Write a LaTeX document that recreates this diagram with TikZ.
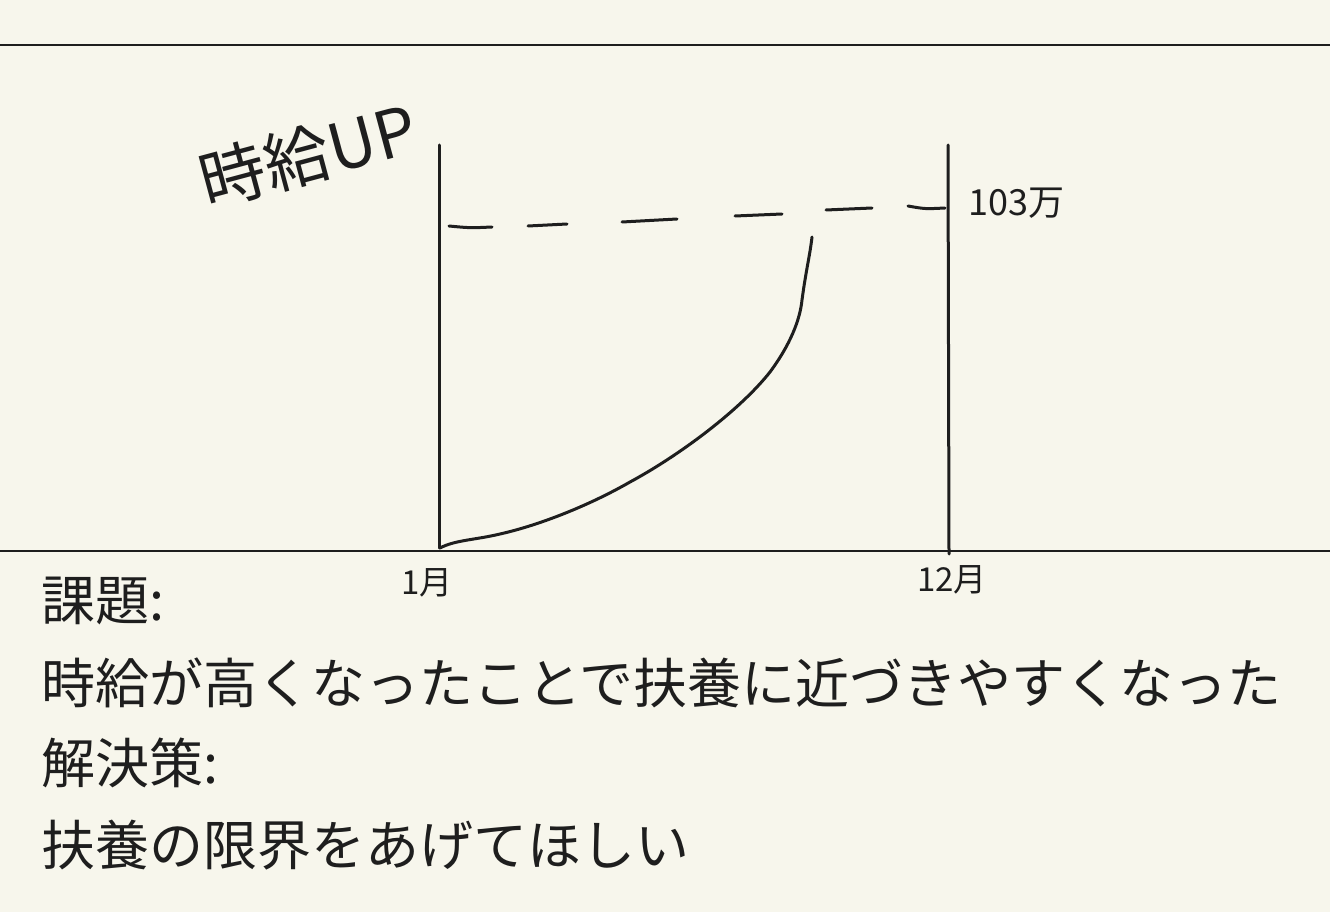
\documentclass[tikz,border=0pt]{standalone}
\usepackage{fontspec}
\newfontfamily\cjk{Noto Sans CJK JP}
\definecolor{paper}{HTML}{F7F6EC}
\definecolor{ink}{HTML}{1E1E1E}
\begin{document}
\begin{tikzpicture}[x=1pt,y=-1pt,
  pen/.style={draw=ink,line width=3pt,line cap=round,line join=round},
  rule/.style={draw=ink,line width=2.6pt},
  hand/.style={text=ink,font=\cjk\fontsize{36}{36}\selectfont,inner sep=0pt},
  body/.style={text=ink,font=\cjk\fontsize{54}{54}\selectfont,inner sep=0pt,anchor=west}]
\fill[paper] (0,0) rectangle (1330,912);
\useasboundingbox (0,0) rectangle (1330,912);
% ruled lines
\draw[rule] (0,45) -- (1330,45);
\draw[rule] (0,551) -- (1330,551);
% axes
\coordinate (l0) at (439,145); \coordinate (l1) at (439,548);
\coordinate (r0) at (948,145); \coordinate (r1) at (949,554);
\draw[pen] (l0) -- (l1);
\draw[pen] (r0) -- (r1);
% dashed limit line
\draw[pen] (449,226) .. controls (470,228) .. (492,227);
\draw[pen] (528,226) -- (567,224);
\draw[pen] (622,222) .. controls (650,220) .. (677,219);
\draw[pen] (735,216) -- (782,214);
\draw[pen] (826,210) -- (872,208);
\draw[pen] (908,206) .. controls (925,209) .. (945,208);
% income curve
\draw[pen] (440,548) .. controls (455,540) and (475,540) .. (500,534)
  .. controls (540,525) and (590,505) .. (630,482)
  .. controls (680,455) and (740,410) .. (770,372)
  .. controls (790,345) and (800,320) .. (802,300)
  .. controls (806,270) and (810,255) .. (812,237);
% labels
\node[hand,font=\cjk\fontsize{66}{66}\selectfont,rotate=15] (title) at (308,155) {時給UP};
\node[hand,anchor=west] (limit) at (968,203) {103万};
\node[hand,font=\cjk\fontsize{33}{33}\selectfont] (jan) at (427,583) {1月};
\node[hand,font=\cjk\fontsize{33}{33}\selectfont] (dec) at (952,580) {12月};
% body text
\node[body] (t1) at (41,601) {課題:};
\node[body] (t2) at (41,683) {時給が高くなったことで扶養に近づきやすくなった};
\node[body] (t3) at (41,763) {解決策:};
\node[body] (t4) at (41,845) {扶養の限界をあげてほしい};
\end{tikzpicture}
\end{document}
